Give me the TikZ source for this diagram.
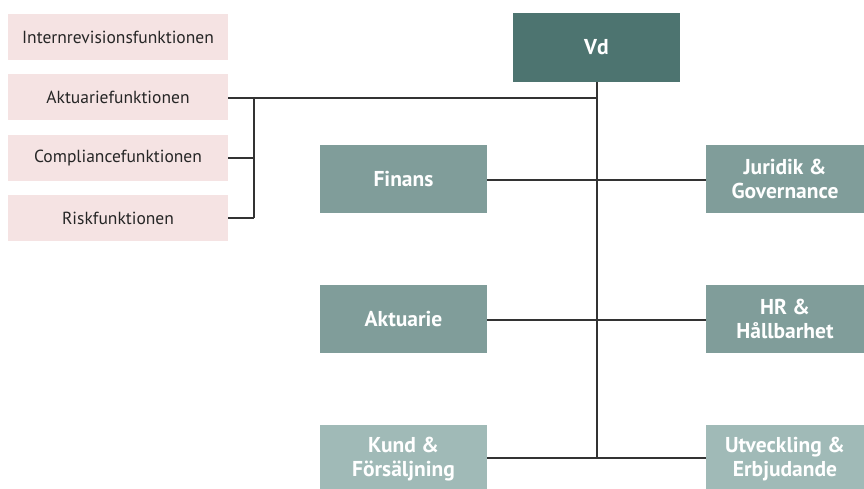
\documentclass[tikz,border=0pt]{standalone}
\usepackage{fontspec}
\setmainfont{PT Sans}
\begin{document}
\begin{tikzpicture}[x=1pt,y=-1pt,
  fnbox/.style={fill=pinkbg, draw=none, minimum width=220pt, minimum height=46pt,
    inner sep=0pt, font=\fontsize{17.5}{20}\selectfont, text=black!85},
  orgbox/.style={draw=none, minimum width=167pt, minimum height=68pt, inner sep=0pt,
    align=center, text=white, font=\bfseries\fontsize{21.5}{24}\selectfont},
  sidebox/.style={orgbox, minimum width=158pt},
  link/.style={draw=black!80, line width=1.1pt}]
\definecolor{pinkbg}{HTML}{F5E3E3}
\definecolor{topteal}{HTML}{4D7470}
\definecolor{midteal}{HTML}{809D9A}
\definecolor{lowteal}{HTML}{A0BAB7}
\useasboundingbox (0,0) rectangle (864,488);

% control functions
\node[fnbox] (intern) at (118,37) {Internrevisionsfunktionen};
\node[fnbox] (akt) at (118,97) {Aktuariefunktionen};
\node[fnbox] (comp) at (118,158) {Compliancefunktionen};
\node[fnbox] (risk) at (118,218) {Riskfunktionen};

% management
\node[orgbox, fill=topteal, minimum width=167pt, minimum height=69pt] (vd) at (596.5,47.5) {Vd};
\node[orgbox, fill=midteal] (finans) at (403.5,179) {Finans};
\node[sidebox, fill=midteal] (jur) at (785,179) {Juridik \&\\Governance};
\node[orgbox, fill=midteal] (aktuarie) at (403.5,319) {Aktuarie};
\node[sidebox, fill=midteal] (hr) at (785,319) {HR \&\\Hållbarhet};
\node[orgbox, fill=lowteal] (kund) at (403.5,459) {Kund \&\\Försäljning};
\node[sidebox, fill=lowteal] (utv) at (785,459) {Utveckling \&\\Erbjudande};

% trunk and branches
\coordinate (bracket) at (254,98);
\coordinate (trunkend) at (597,458);
\draw[link] (vd.south -| trunkend) -- (trunkend);
\draw[link] (akt.east |- bracket) -- (bracket -| trunkend);
\draw[link] (bracket) -- (bracket |- risk.east);
\draw[link] (comp.east) -- (comp.east -| bracket);
\draw[link] (risk.east) -- (risk.east -| bracket);
\draw[link] (finans.east |- 0,180) -- (jur.west |- 0,180);
\draw[link] (aktuarie.east |- 0,320) -- (hr.west |- 0,320);
\draw[link] (kund.east |- trunkend) -- (utv.west |- trunkend);
\end{tikzpicture}
\end{document}
